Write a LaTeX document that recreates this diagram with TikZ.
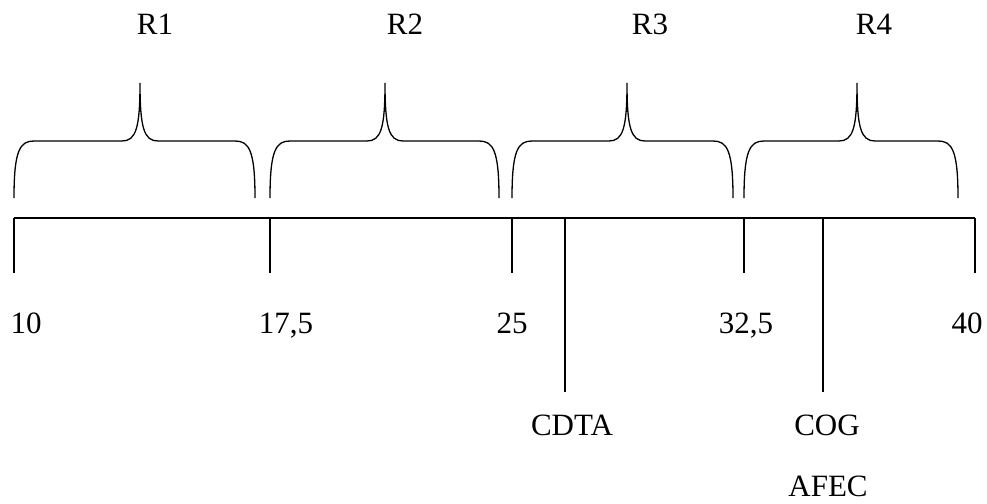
\documentclass[tikz,border=0pt]{standalone}
\usepackage{fontspec}
\setmainfont{Liberation Serif}
\begin{document}
\begin{tikzpicture}[x=1pt,y=-1pt,
  line/.style={line width=1.3pt,black},
  lbl/.style={font=\fontsize{31}{37}\selectfont,anchor=base,inner sep=0pt}]
\useasboundingbox (0,0) rectangle (987,503);
\newcommand{\mybrace}[3]{%
  \draw[line] (#1,198) .. controls (#1,150) and (#1+6,141) .. (#1+20,141)
    -- (#2-18,141) .. controls (#2-4,141) and (#2,128) .. (#2,83)
    .. controls (#2,128) and (#2+4,141) .. (#2+18,141)
    -- (#3-20,141) .. controls (#3-6,141) and (#3,150) .. (#3,198);}
\mybrace{14}{140}{255}
\mybrace{270}{385}{499}
\mybrace{512}{627}{733}
\mybrace{744}{857}{958}
% axis
\coordinate (a0) at (14,218);
\coordinate (a1) at (270,218);
\coordinate (a2) at (512,218);
\coordinate (a3) at (744,218);
\coordinate (a4) at (975,218);
\coordinate (c1) at (565,218);
\coordinate (c2) at (823,218);
\coordinate (b0) at (14,273);
\coordinate (b1) at (270,273);
\coordinate (b2) at (512,273);
\coordinate (b3) at (744,273);
\coordinate (b4) at (975,273);
\coordinate (d1) at (565,392);
\coordinate (d2) at (823,392);
\draw[line] (a0) -- (a4);
\foreach \i in {0,...,4}{\draw[line] (a\i) -- (b\i);}
\draw[line] (c1) -- (d1);
\draw[line] (c2) -- (d2);
% labels
\node[lbl] (r1) at (155,35) {R1};
\node[lbl] (r2) at (405,35) {R2};
\node[lbl] (r3) at (650,35) {R3};
\node[lbl] (r4) at (874,35) {R4};
\node[lbl] (n10) at (26,333) {10};
\node[lbl] (n17) at (286,333) {17,5};
\node[lbl] (n25) at (512,333) {25};
\node[lbl] (n32) at (746,333) {32,5};
\node[lbl] (n40) at (967,333) {40};
\node[lbl] (cdta) at (572,435) {CDTA};
\node[lbl] (cog) at (827,435) {COG};
\node[lbl] (afec) at (828,496) {AFEC};
\end{tikzpicture}
\end{document}
